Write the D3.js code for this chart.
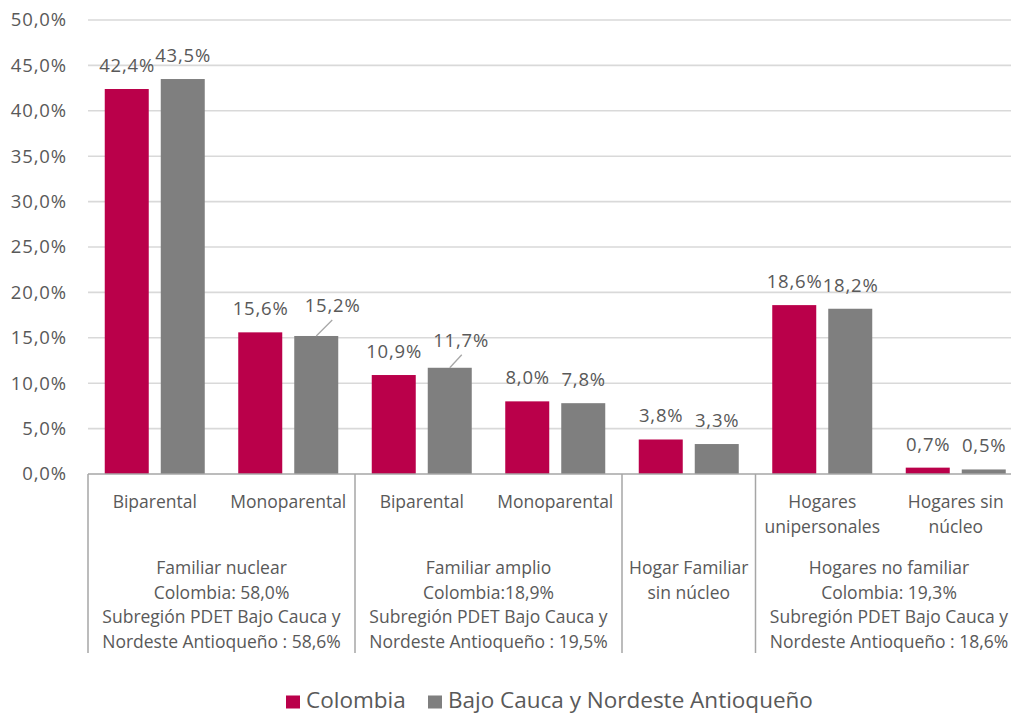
<!DOCTYPE html>
<html>
<head>
<meta charset="utf-8">
<script src="https://cdn.jsdelivr.net/npm/d3@7"></script>
<style>
  html, body { margin: 0; padding: 0; background: #fff; }
  svg { display: block; font-family: "Open Sans", "Noto Sans", sans-serif; }
</style>
</head>
<body>
<svg id="chart" width="1011" height="714"></svg>
<script>
// Subtypes of household (lower axis level)
const categories = [
  "Biparental", "Monoparental", "Biparental", "Monoparental",
  "Hogar Familiar sin núcleo", "Hogares unipersonales", "Hogares sin núcleo"
];
// Lines shown under each bar pair (empty for the single-category group)
const categoryLabels = [
  ["Biparental"], ["Monoparental"], ["Biparental"], ["Monoparental"],
  [], ["Hogares", "unipersonales"], ["Hogares sin", "núcleo"]
];
// Household type groups (upper axis level)
const groups = [
  { size: 2, lines: ["Familiar nuclear", "Colombia: 58,0%", "Subregión PDET Bajo Cauca y", "Nordeste Antioqueño : 58,6%"] },
  { size: 2, lines: ["Familiar amplio", "Colombia:18,9%", "Subregión PDET Bajo Cauca y", "Nordeste Antioqueño : 19,5%"] },
  { size: 1, lines: ["Hogar Familiar", "sin núcleo"] },
  { size: 2, lines: ["Hogares no familiar", "Colombia: 19,3%", "Subregión PDET Bajo Cauca y", "Nordeste Antioqueño : 18,6%"] }
];
const seriesNames = ["Colombia", "Bajo Cauca y Nordeste Antioqueño"];
const colombia = [42.4, 15.6, 10.9, 8.0, 3.8, 18.6, 0.7];
const bajoCauca = [43.5, 15.2, 11.7, 7.8, 3.3, 18.2, 0.5];
const yTicks = [0, 5, 10, 15, 20, 25, 30, 35, 40, 45, 50];

const colors = { "Colombia": "#BA004A", "Bajo Cauca y Nordeste Antioqueño": "#7F7F7F" };
const textColor = "#595959";

const svg = d3.select("#chart");
const plotLeft = 88, plotTop = 20, plotBottom = 474;
const step = 133.5;

const x0 = d3.scaleBand()
  .domain(d3.range(categories.length))
  .range([plotLeft, plotLeft + step * categories.length])
  .paddingInner(0).paddingOuter(0);
const x1 = d3.scaleBand()
  .domain(seriesNames)
  .range([16.75, step - 16.75])
  .paddingInner(12 / 56);
const y = d3.scaleLinear().domain([0, 50]).range([plotBottom, plotTop]);

const fmt = v => d3.format(".1f")(v).replace(".", ",") + "%";

// Gridlines
svg.append("g").selectAll("line")
  .data(yTicks.filter(t => t > 0))
  .join("line")
  .attr("x1", plotLeft).attr("x2", 1011)
  .attr("y1", d => y(d)).attr("y2", d => y(d))
  .attr("stroke", "#D9D9D9").attr("stroke-width", 1.6);

// Y axis labels
const yAxis = svg.append("g")
  .attr("transform", `translate(${plotLeft},0)`)
  .call(d3.axisLeft(y).tickValues(yTicks).tickFormat(fmt).tickSize(0).tickPadding(21));
yAxis.select(".domain").remove();
yAxis.selectAll("text")
  .attr("fill", textColor)
  .style("font-size", "18.5px")
  .style("letter-spacing", "0.9px")
  .style("font-family", "'Open Sans', sans-serif");

// Bars
const rows = categories.map((c, i) => ({ i, values: [
  { key: seriesNames[0], v: colombia[i] },
  { key: seriesNames[1], v: bajoCauca[i] }
]}));

const cat = svg.append("g").selectAll("g")
  .data(rows)
  .join("g")
  .attr("transform", d => `translate(${x0(d.i)},0)`);

cat.selectAll("rect")
  .data(d => d.values)
  .join("rect")
  .attr("x", d => x1(d.key))
  .attr("width", x1.bandwidth())
  .attr("y", d => y(d.v))
  .attr("height", d => y(0) - y(d.v))
  .attr("fill", d => colors[d.key]);

// Value labels; two labels are moved aside and tied back to their bars
// dx, dy: label shift; lx, ly: end of the leader line from the bar top
const nudge = {
  "1-1": { dx: 16, dy: -7, lx: 16, ly: -16 },
  "2-1": { dx: 11, dy: -4, lx: 12, ly: -13 }
};
cat.each(function (d) {
  const g = d3.select(this);
  d.values.forEach((p, j) => {
    const cx = x1(p.key) + x1.bandwidth() / 2;
    const n = nudge[d.i + "-" + j] || { dx: 0, dy: 0 };
    if (n.lx !== undefined) {
      g.append("line")
        .attr("x1", cx).attr("y1", y(p.v))
        .attr("x2", cx + n.lx).attr("y2", y(p.v) + n.ly)
        .attr("stroke", "#A6A6A6").attr("stroke-width", 1.3);
    }
    g.append("text")
      .attr("x", cx + n.dx + 0.4)
      .attr("y", y(p.v) - 17 + n.dy)
      .attr("text-anchor", "middle")
      .attr("fill", textColor)
      .style("font-size", "18.5px")
      .style("letter-spacing", "0.8px")
      .text(fmt(p.v));
  });
});

// Category axis line
svg.append("line")
  .attr("x1", plotLeft).attr("x2", 1011)
  .attr("y1", plotBottom).attr("y2", plotBottom)
  .attr("stroke", "#A6A6A6").attr("stroke-width", 1.5);

// Group dividers
let idx = 0;
const bounds = [0];
groups.forEach(g => { idx += g.size; bounds.push(idx); });
svg.append("g").selectAll("line")
  .data(bounds)
  .join("line")
  .attr("x1", d => x0(0) + d * step).attr("x2", d => x0(0) + d * step)
  .attr("y1", plotBottom).attr("y2", 653)
  .attr("stroke", "#A6A6A6").attr("stroke-width", 1.5);

// Lower level labels
svg.append("g").selectAll("text")
  .data(categoryLabels.map((lines, i) => ({ lines, i })))
  .join("text")
  .attr("text-anchor", "middle")
  .attr("fill", textColor)
  .style("font-size", "17.5px")
  .each(function (d) {
    d3.select(this).selectAll("tspan")
      .data(d.lines)
      .join("tspan")
      .attr("x", x0(d.i) + step / 2)
      .attr("y", (l, k) => 508 + k * 25)
      .text(l => l);
  });

// Upper level labels
svg.append("g").selectAll("text")
  .data(groups.map((g, k) => ({ g, k })))
  .join("text")
  .attr("text-anchor", "middle")
  .attr("fill", textColor)
  .style("font-size", "17.5px")
  .each(function (d) {
    const cx = x0(0) + (bounds[d.k] + bounds[d.k + 1]) / 2 * step;
    d3.select(this).selectAll("tspan")
      .data(d.g.lines)
      .join("tspan")
      .attr("x", cx)
      .attr("y", (l, k) => 574 + k * 24.7)
      .text(l => l);
  });

// Legend
const legend = svg.append("g").attr("transform", "translate(286,707.5)");
const legendX = [0, 142];
seriesNames.forEach((s, i) => {
  const lg = legend.append("g").attr("transform", `translate(${legendX[i]},0)`);
  lg.append("rect").attr("x", 0).attr("y", -12).attr("width", 14).attr("height", 13).attr("fill", colors[s]);
  lg.append("text").attr("x", 20).attr("y", 0).attr("fill", textColor).style("font-size", "22.5px").text(s);
});
</script>
</body>
</html>
